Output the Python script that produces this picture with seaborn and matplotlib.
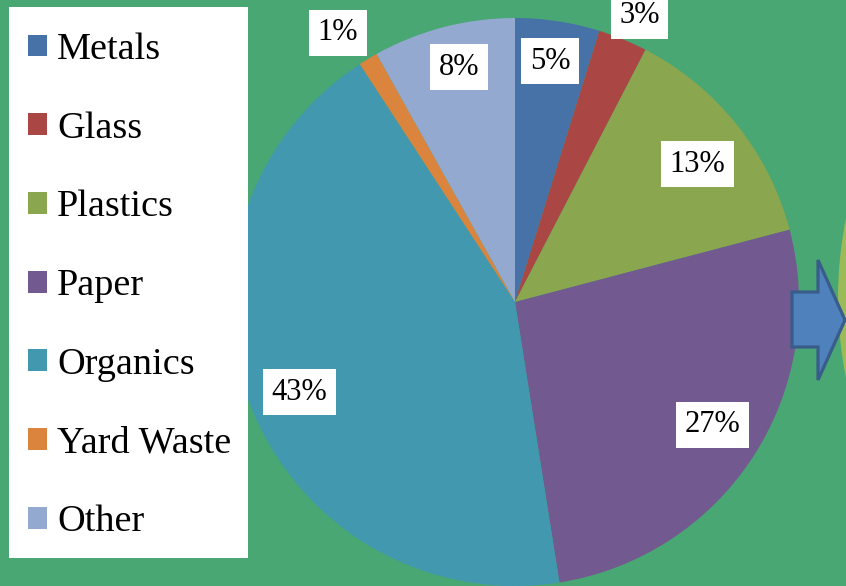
import matplotlib
matplotlib.use("Agg")
import matplotlib.pyplot as plt
import seaborn as sns
import numpy as np
from matplotlib.patches import Polygon, Circle, Rectangle

categories = ["Metals", "Glass", "Plastics", "Paper", "Organics", "Yard Waste", "Other"]
shares = [4.8, 2.8, 13.3, 26.6, 43.3, 1.1, 8.1]
label_text = ["5%", "3%", "13%", "27%", "43%", "1%", "8%"]
slice_colors = ["#4672A8", "#AA4744", "#8AA64F", "#72598F", "#4298AF", "#DB843D", "#94A9CF"]
label_dist = [0.857, 1.10, 0.805, 0.819, 0.823, 1.134, 0.85]
label_shift = [-0.3, 1.2, 1.7, -1.2, -1.6, -2.2, 1.2]  # degrees clockwise

sns.set_style("white")
plt.rcParams['font.family'] = ['Liberation Serif', 'DejaVu Serif']
plt.rcParams['text.color'] = 'black'

W, H = 846, 586
bg = "#49A773"
fig = plt.figure(figsize=(W / 100, H / 100), dpi=100)
fig.patch.set_facecolor(bg)
ax = fig.add_axes([0, 0, 1, 1])
ax.set_facecolor(bg)

cx, cy, R = 515, 302, 284


def px(x, y):
    return ((x - cx) / R, (cy - y) / R)


# partial circle at the right edge (next chart element)
ax.add_patch(Circle(px(1242, 298), 404 / R, color="#9BBB59", lw=0, zorder=0))

palette = sns.color_palette(slice_colors)
wedges, _ = ax.pie(shares, colors=palette, startangle=90, counterclock=False,
                   radius=1, center=(0, 0), wedgeprops=dict(linewidth=0), frame=True)

for w, txt, d, s in zip(wedges, label_text, label_dist, label_shift):
    th = np.deg2rad((w.theta1 + w.theta2) / 2 - s)
    ax.text(d * np.cos(th), d * np.sin(th), txt, fontsize=22, ha="center", va="center",
            color="black", zorder=5,
            bbox=dict(boxstyle="square,pad=0.28", fc="white", ec="none"))

# arrow
arrow_px = [(792, 292), (818, 292), (818, 260), (845, 320), (818, 380), (818, 347), (792, 347)]
ax.add_patch(Polygon([px(*p) for p in arrow_px], closed=True, fc="#4F81BD",
                     ec="#385D8A", lw=2.3, zorder=4))

ax.set_xlim(-cx / R, (W - cx) / R)
ax.set_ylim(-(H - cy) / R, cy / R)
ax.axis("off")

# legend box
ax.add_patch(Rectangle((9 / W, 1 - 558 / H), 239 / W, 551 / H, transform=ax.transAxes,
                       fc="white", ec="none", zorder=9, clip_on=False))
leg = ax.legend(wedges, categories, loc="upper left", bbox_to_anchor=(28 / W, 1 - 32.5 / H),
                bbox_transform=fig.transFigure, borderaxespad=0, fontsize=27.5,
                frameon=False, handlelength=0.5, handleheight=0.5, handletextpad=0.26,
                labelspacing=1.158, borderpad=0, labelcolor="black")
leg.set_zorder(10)

fig.savefig("out.png", dpi=100, facecolor=bg)
